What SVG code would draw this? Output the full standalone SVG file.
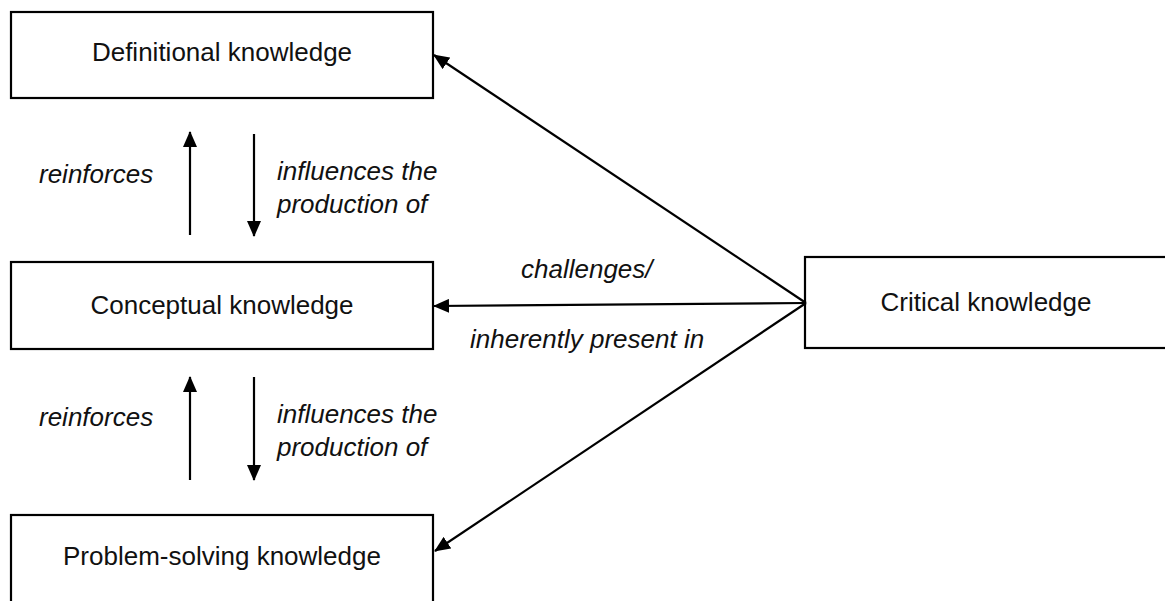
<svg xmlns="http://www.w3.org/2000/svg" width="1165" height="601" viewBox="0 0 1165 601">
<style>
.box{fill:#fff;stroke:#000;stroke-width:2.2}
.t{font-family:"Liberation Sans",Arial,sans-serif;font-size:26px;fill:#111}
.lbl{font-family:"Liberation Sans",Arial,sans-serif;font-size:26px;font-style:italic;fill:#111}
.c{fill:none;stroke:#000;stroke-width:2.2}
</style>
<defs>
<marker id="ah" markerWidth="16" markerHeight="14" refX="15" refY="7" orient="auto" markerUnits="userSpaceOnUse">
<path d="M0,0 L16,7 L0,14 Z" fill="#000"/>
</marker>
</defs>
<rect width="1165" height="601" fill="#fff"/>
<g id="node-definitional">
<rect class="box" x="11" y="12" width="422" height="86"/>
<text class="t" x="222" y="61" text-anchor="middle">Definitional knowledge</text>
</g>
<g id="node-conceptual">
<rect class="box" x="11" y="262" width="422" height="87"/>
<text class="t" x="222" y="314" text-anchor="middle">Conceptual knowledge</text>
</g>
<g id="node-problem">
<rect class="box" x="11" y="515" width="422" height="100"/>
<text class="t" x="222" y="565" text-anchor="middle">Problem-solving knowledge</text>
</g>
<g id="node-critical">
<rect class="box" x="805" y="257" width="380" height="91"/>
<text class="t" x="986" y="311" text-anchor="middle">Critical knowledge</text>
</g>
<g id="connectors">
<line class="c" x1="190" y1="235" x2="190" y2="132" marker-end="url(#ah)"/>
<line class="c" x1="254" y1="134" x2="254" y2="236" marker-end="url(#ah)"/>
<line class="c" x1="190" y1="480" x2="190" y2="377" marker-end="url(#ah)"/>
<line class="c" x1="254" y1="377" x2="254" y2="480" marker-end="url(#ah)"/>
<line class="c" x1="806" y1="303" x2="434" y2="306" marker-end="url(#ah)"/>
<line class="c" x1="806" y1="303" x2="434" y2="55" marker-end="url(#ah)"/>
<line class="c" x1="806" y1="303" x2="435" y2="551" marker-end="url(#ah)"/>
</g>
<g id="labels">
<text class="lbl" x="39" y="183">reinforces</text>
<text class="lbl" x="277" y="180">influences the</text>
<text class="lbl" x="277" y="213">production of</text>
<text class="lbl" x="39" y="426">reinforces</text>
<text class="lbl" x="277" y="423">influences the</text>
<text class="lbl" x="277" y="456">production of</text>
<text class="lbl" x="521" y="278">challenges/</text>
<text class="lbl" x="470" y="348">inherently present in</text>
</g>
</svg>
